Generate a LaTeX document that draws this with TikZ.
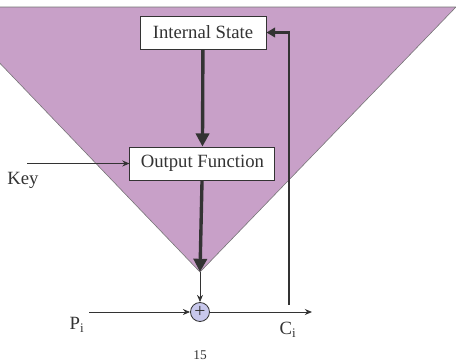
\documentclass[tikz,border=0pt]{standalone}
\usepackage{fontspec}
\setmainfont{Liberation Serif}
\usetikzlibrary{arrows.meta, positioning, calc}
\definecolor{vfill}{RGB}{200,160,200}
\definecolor{xfill}{RGB}{200,200,236}
\definecolor{ink}{RGB}{51,51,51}
\begin{document}
\begin{tikzpicture}[
  >=Stealth, font=\fontsize{13.3}{16}\selectfont, color=ink,
  bx/.style={rectangle, draw=ink, fill=white, minimum height=8.25mm, inner sep=0pt, line width=0.6pt},
  xo/.style={circle, draw=ink, fill=xfill, minimum size=4.75mm, inner sep=0pt, line width=0.6pt, font=\fontsize{14}{14}\selectfont},
  fl/.style={-{Stealth[length=1.8mm,width=1.5mm]}, line width=0.6pt},
  tk/.style={-{Triangle[length=3.3mm,width=3.3mm]}, line width=2.4pt},
  fb/.style={-{Triangle[length=2.2mm,width=2.4mm]}, line width=1.8pt}]

\useasboundingbox (0,0) rectangle (11.4,9.05);

% ---- the funnel behind everything ----
\begin{scope}
\clip (0,0) rectangle (11.4,9.05);
\draw[fill=vfill, draw=black!55, line width=0.4pt] (-1.35,8.875) -- (11.4,8.875) -- (5.0,2.25) -- cycle;
\end{scope}
\coordinate (apex) at (5.0,2.25);

% ---- boxes ----
\node[bx, minimum width=31.5mm] (is) at (5.075,8.2375) {Internal State};
\node[bx, minimum width=36.25mm] (of) at (5.06,4.9625) {Output Function};
\node[xo] (xor) at (5.0,1.25) {+};

% ---- inputs, outputs, labels ----
\coordinate (kin) at (0.675,4.9625);
\coordinate (pin) at (2.225,1.25);
\coordinate (cout) at (7.8,1.25);
\coordinate (tap) at (7.225,1.43);
\node (key) at (0.575,4.55) {Key};
\node (pi) at (1.925,0.93) {P\textsubscript{i}};
\node (ci) at (7.2,0.8) {C\textsubscript{i}};
\node[font=\fontsize{9.5}{11}\selectfont] (pg) at (5.0,0.175) {15};

% ---- connectors ----
\draw[tk] (is) -- (of);
\draw[tk] (of) -- (apex);
\draw[fl] (apex) -- (xor);
\draw[fl] (kin) -- (of.west);
\draw[fl] (pin) -- (xor);
\draw[fl] (xor) -- (cout);
\draw[fb] (tap) |- (is.east);
\end{tikzpicture}
\end{document}
